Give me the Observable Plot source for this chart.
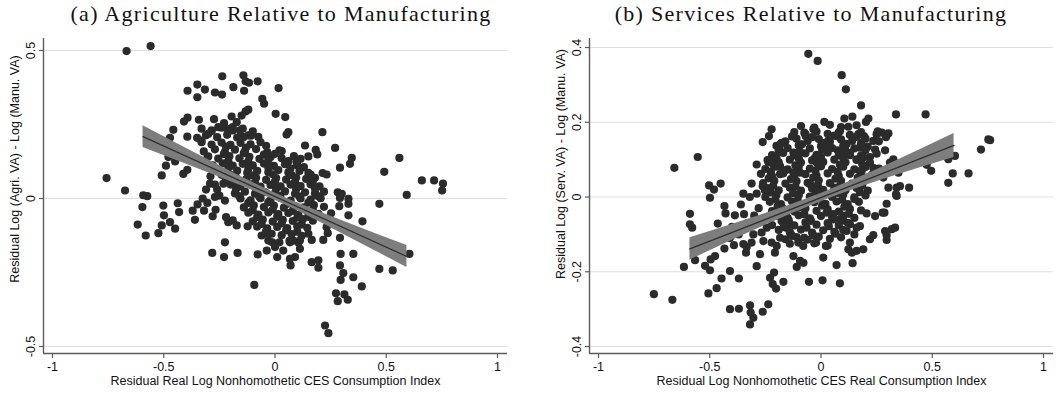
<!DOCTYPE html>
<html>
<head>
<meta charset="utf-8">
<script src="https://cdn.jsdelivr.net/npm/d3@7"></script>
<script src="https://cdn.jsdelivr.net/npm/@observablehq/plot@0.6"></script>
<style>
  html, body { margin: 0; padding: 0; background: #fff; }
  #wrap { position: relative; width: 1057px; height: 396px; overflow: hidden; background: #fff; }
  .title { position: absolute; top: 1px; width: 600px; text-align: center; font-family: "Liberation Serif", "Times New Roman", serif; font-size: 22px; letter-spacing: 1.3px; color: #111; white-space: nowrap; }
  .panel { position: absolute; top: 26px; }
</style>
</head>
<body>
<div id="wrap">
  <div class="title" id="t1" style="left:-19px">(a) Agriculture Relative to Manufacturing</div>
  <div class="title" id="t2" style="left:511px">(b) Services Relative to Manufacturing</div>
  <div class="panel" id="p1" style="left:0px"></div>
  <div class="panel" id="p2" style="left:529px"></div>
</div>
<script>
// ---------- shared axis values ----------
const xTicks = [-1, -0.5, 0, 0.5, 1];
const xTickLabels = ["-1", "-0.5", "0", "0.5", "1"];
const xDomain = [-1.0404, 1.0449];

// ---------- panel (a): Agriculture ----------
const agriYTicks = [-0.5, 0, 0.5];
const agriYTickLabels = ["-0.5", "0", "0.5"];
const agriYDomain = [-0.5236, 0.5405];
const agriXLabel = "Residual Real Log Nonhomothetic CES Consumption Index";
const agriYLabel = "Residual Log (Agri. VA) - Log (Manu. VA)";

const agriOuter = [
[-0.667,0.498],[-0.559,0.515],[-0.237,0.413],[-0.142,0.416],[-0.132,0.396],[-0.117,0.391],[-0.078,0.396],[-0.349,0.385],[-0.393,0.364],[-0.349,0.342],[-0.315,0.368],[-0.270,0.358],[-0.238,0.351],[-0.187,0.376],[-0.139,0.364],[0.016,0.373],[-0.057,0.337],[-0.049,0.320],[0.003,0.286],[0.046,0.275],[-0.132,0.294],[-0.120,0.300],[-0.150,0.280],[-0.195,0.277],[-0.274,0.268],[-0.342,0.266],[-0.393,0.273],[-0.409,0.260],[-0.457,0.232],[-0.394,0.209],[-0.472,0.205],[0.060,0.224],[0.052,0.216],[0.213,0.224],[-0.108,0.212],[-0.330,0.196],[-0.300,0.218],[-0.285,0.230],[-0.255,0.241],[-0.229,0.255],[-0.214,0.235],[-0.190,0.241],[-0.172,0.258],[-0.157,0.230],[-0.142,0.207],[0.135,0.179],[0.270,0.171],[0.030,0.160],[0.183,0.164],[0.190,0.149],[0.115,0.134],[0.097,0.123],[0.150,0.142],[0.345,0.137],[0.337,0.117],[0.292,0.104],[0.559,0.137],[0.491,0.090],[0.214,0.086],[0.232,0.081],[-0.757,0.069],[-0.674,0.027],[-0.592,0.011],[-0.574,0.008],[-0.596,-0.029],[-0.617,-0.088],[-0.502,-0.024],[-0.499,-0.057],[-0.437,-0.016],[-0.431,-0.046],[-0.509,0.078],[-0.490,0.111],[-0.479,0.140],[-0.449,0.125],[-0.412,0.083],[-0.394,0.097],[-0.370,-0.041],[-0.348,-0.020],[-0.319,-0.041],[-0.304,-0.015],[-0.267,-0.038],[-0.303,0.140],[-0.292,0.050],[-0.270,0.047],[-0.232,0.050],[0.469,-0.018],[0.330,-0.018],[0.289,-0.026],[0.282,0.021],[0.300,0.016],[0.252,-0.050],[0.330,-0.057],[0.393,-0.077],
[-0.04,-0.118],[-0.012,-0.148],[0.0,-0.164],[0.01,-0.198],[0.037,-0.176],[0.067,-0.204],[0.07,-0.226],[0.09,-0.198],[0.112,-0.17],[0.165,-0.215],[0.195,-0.209],[0.195,-0.234],[0.067,-0.148],[0.082,-0.142],[0.165,-0.14],[0.217,-0.14],[0.237,-0.117],[-0.093,-0.292],[-0.282,-0.184],[-0.229,-0.198],[-0.168,-0.184],[-0.078,-0.189],[-0.037,-0.176],[-0.225,-0.148],[-0.21,-0.08],[-0.172,-0.091],[-0.123,-0.094],[0.292,-0.133],[0.295,-0.187],[0.352,-0.187],[0.292,-0.226],[0.307,-0.252],[0.295,-0.275],[0.352,-0.266],[0.39,-0.297],[0.274,-0.32],[0.312,-0.324],[0.282,-0.347],[0.327,-0.342],[0.469,-0.238],[0.529,-0.243],[0.592,0.012],[0.604,-0.187],[0.225,-0.429],[0.24,-0.455],[0.292,0.002],[-0.581,-0.125],[-0.524,-0.117],[-0.509,-0.091],[-0.472,-0.08],[-0.449,-0.102],[-0.36,-0.072],[0.66,0.061],[0.715,0.061],[0.755,0.05],[0.751,0.027],[0.33,-0.001],[0.24,-0.08],[0.232,-0.097],[0.15,-0.119],[0.112,-0.142],
[-0.28,-0.06],[-0.225,-0.007],[-0.22,-0.063],[-0.19,-0.074],[-0.25,0.01],[-0.325,0.0],[-0.29,0.075],[-0.26,0.03],[-0.24,0.08],[-0.31,0.03],[-0.27,0.005]
];

const agriDense = [
[-0.33,0.236],[-0.285,0.228],[-0.24,0.239],[-0.19,0.23],[-0.145,0.236],[-0.10,0.227],
[-0.35,0.205],[-0.31,0.214],[-0.26,0.207],[-0.215,0.215],[-0.17,0.206],[-0.12,0.213],[-0.075,0.208],
[-0.33,0.19],[-0.285,0.182],[-0.24,0.189],[-0.2,0.181],[-0.155,0.188],[-0.11,0.183],[-0.065,0.19],
[-0.32,0.159],[-0.27,0.166],[-0.225,0.158],[-0.18,0.165],[-0.135,0.16],[-0.085,0.167],[-0.035,0.157],[0.02,0.163],
[-0.3,0.142],[-0.255,0.135],[-0.205,0.143],[-0.16,0.136],[-0.115,0.141],[-0.07,0.134],[-0.02,0.14],[0.03,0.136],[0.085,0.143],
[-0.28,0.112],[-0.235,0.119],[-0.19,0.111],[-0.145,0.117],[-0.1,0.112],[-0.05,0.118],[-0.005,0.11],[0.045,0.116],[0.1,0.112],
[-0.265,0.095],[-0.215,0.088],[-0.17,0.094],[-0.125,0.087],[-0.08,0.093],[-0.03,0.089],[0.015,0.096],[0.06,0.088],[0.11,0.093],[0.15,0.087],
[-0.22,0.064],[-0.175,0.071],[-0.13,0.065],[-0.085,0.07],[-0.04,0.063],[0.005,0.069],[0.05,0.064],[0.095,0.071],[0.14,0.066],[0.18,0.07],
[-0.2,0.047],[-0.155,0.041],[-0.11,0.048],[-0.065,0.04],[-0.02,0.046],[0.025,0.041],[0.07,0.047],[0.115,0.042],[0.16,0.048],[0.2,0.041],
[-0.18,0.017],[-0.135,0.023],[-0.09,0.016],[-0.045,0.022],[0.0,0.018],[0.045,0.024],[0.09,0.016],[0.135,0.021],[0.18,0.017],[0.22,0.023],
[-0.155,0.0],[-0.11,-0.006],[-0.065,0.001],[-0.02,-0.005],[0.025,0.002],[0.07,-0.007],[0.115,0.0],[0.16,-0.004],[0.205,0.001],
[-0.14,-0.03],[-0.095,-0.023],[-0.05,-0.029],[-0.005,-0.024],[0.04,-0.031],[0.085,-0.025],[0.13,-0.03],[0.175,-0.022],[0.22,-0.028],
[-0.12,-0.048],[-0.075,-0.054],[-0.03,-0.047],[0.015,-0.053],[0.06,-0.049],[0.105,-0.055],[0.15,-0.048],[0.195,-0.052],
[-0.1,-0.077],[-0.055,-0.071],[-0.01,-0.078],[0.035,-0.072],[0.08,-0.076],[0.125,-0.07],[0.17,-0.075],
[-0.08,-0.095],[-0.035,-0.101],[0.01,-0.096],[0.055,-0.1],[0.1,-0.094],[0.145,-0.099],
[-0.06,-0.125],[-0.015,-0.119],[0.03,-0.124],[0.075,-0.12],[0.12,-0.126],
[-0.03,-0.142],[0.02,-0.148],[0.065,-0.143],[0.105,-0.149]
];

const agriCore = [
[-0.22,0.175],[-0.13,0.172],[-0.04,0.178],
[-0.23,0.15],[-0.14,0.153],[-0.05,0.148],[0.0,0.151],
[-0.21,0.127],[-0.12,0.125],[-0.03,0.129],[0.06,0.126],
[-0.21,0.103],[-0.12,0.1],[-0.03,0.105],[0.07,0.102],[0.13,0.106],
[-0.2,0.08],[-0.105,0.078],[-0.01,0.082],[0.075,0.079],[0.16,0.081],
[-0.18,0.056],[-0.09,0.053],[0.0,0.058],[0.09,0.055],[0.17,0.057],
[-0.175,0.032],[-0.085,0.03],[0.005,0.034],[0.095,0.031],[0.18,0.033],
[-0.16,0.008],[-0.07,0.006],[0.02,0.01],[0.11,0.007],[0.19,0.009],
[-0.12,-0.015],[-0.03,-0.013],[0.06,-0.017],[0.15,-0.014],
[-0.1,-0.04],[-0.01,-0.038],[0.08,-0.042],[0.17,-0.039],
[-0.08,-0.063],[0.01,-0.061],[0.1,-0.065],[0.15,-0.062],
[-0.06,-0.086],[0.03,-0.084],[0.12,-0.088],
[-0.04,-0.11],[0.05,-0.108],[0.1,-0.112]
];

const agriFitX = [-0.593, 0.593];
const agriFitY = [0.209, -0.196];
const agriBandX = [-0.593, -0.3, 0, 0.3, 0.593];
const agriBandLo = [0.172, 0.087, -0.006, -0.118, -0.233];
const agriBandHi = [0.246, 0.131, 0.019, -0.074, -0.159];

// ---------- panel (b): Services ----------
const servYTicks = [-0.4, -0.2, 0, 0.2, 0.4];
const servYTickLabels = ["-0.4", "-0.2", "0", "0.2", "0.4"];
const servYDomain = [-0.4187, 0.4241];
const servXLabel = "Residual Log Nonhomothetic CES Real Consumption Index";
const servYLabel = "Residual Log (Serv. VA) - Log (Manu. VA)";

const servOuter = [
[-0.057,0.383],[-0.015,0.364],[0.093,0.326],[0.112,0.288],[0.18,0.245],[0.015,0.201],[0.105,0.21],[0.141,0.215],[0.202,0.201],[0.213,0.21],[0.123,0.188],[0.255,0.176],[-0.222,0.181],[-0.234,0.163],[-0.262,0.147],[-0.177,0.145],[-0.187,0.132],[-0.659,0.078],[-0.554,0.107],[-0.503,0.031],[-0.481,0.02],[-0.499,-0.002],[-0.451,0.036],[-0.434,-0.024],[-0.349,0.009],[-0.312,0.036],[-0.289,0.087],[-0.237,0.094],[-0.207,0.098],[-0.262,0.029],[-0.252,0.018],[-0.289,0.009],[-0.226,0.058],[-0.184,0.061],[-0.094,0.141],[-0.075,0.172],[-0.069,0.163],[-0.034,0.181],[-0.102,0.107],[-0.124,0.119],[-0.027,0.105],[-0.019,0.092],[0.018,0.136],[0.033,0.15],[0.07,0.163],[0.085,0.176],[0.168,0.168],[0.193,0.163],[0.235,0.15],[0.243,0.127],[0.175,0.132],[0.22,0.107],[0.16,0.101],[0.183,0.07],[0.205,0.052],[0.235,0.078],[0.075,0.125],[0.108,0.132],[0.13,0.112],[-0.184,0.083],[-0.162,0.071],[-0.124,0.052],[-0.094,0.065],[-0.049,0.034],[-0.012,0.025],
[-0.589,-0.045],[-0.589,-0.073],[-0.579,-0.082],[-0.616,-0.187],[-0.751,-0.26],[-0.668,-0.275],[-0.566,-0.169],[-0.521,-0.184],[-0.499,-0.196],[-0.496,-0.167],[-0.476,-0.158],[-0.506,-0.258],[-0.469,-0.244],[-0.447,-0.218],[-0.409,-0.198],[-0.369,-0.218],[-0.434,-0.138],[-0.391,-0.129],[-0.464,-0.071],[-0.429,-0.044],[-0.387,-0.049],[-0.346,-0.046],[-0.409,-0.3],[-0.369,-0.299],[-0.319,-0.29],[-0.316,-0.309],[-0.304,-0.323],[-0.319,-0.341],[-0.262,-0.307],[-0.237,-0.287],[-0.289,-0.185],[-0.274,-0.153],[-0.349,-0.126],[-0.334,-0.134],[-0.337,-0.149],[-0.259,-0.118],[-0.222,-0.122],[-0.199,-0.131],[-0.207,-0.149],[-0.184,-0.109],[-0.229,-0.216],[-0.211,-0.202],[-0.217,-0.233],[-0.202,-0.245],[-0.169,-0.227],[-0.124,-0.158],[-0.094,-0.171],[-0.109,-0.187],[-0.079,-0.176],[-0.102,-0.122],[-0.132,-0.104],[-0.054,-0.227],[0.007,-0.223],[0.085,-0.231],[0.01,-0.162],[0.022,-0.131],[-0.022,-0.122],[-0.076,-0.109],[0.07,-0.182],[0.142,-0.177],[0.13,-0.122],[0.123,-0.14],[0.139,-0.149],[0.16,-0.144],[0.19,-0.14],[0.115,-0.091],[0.15,-0.1],[0.175,-0.078],[0.205,-0.044],[0.243,-0.051],[0.285,-0.042],[0.22,-0.113],[0.235,-0.102],[0.288,-0.091],[0.295,-0.102],[0.318,-0.086],[0.333,-0.082],[0.295,-0.018],[0.13,-0.073],[0.16,-0.082],[0.055,-0.046],[0.085,-0.06],[-0.157,-0.082],[-0.177,-0.064],[-0.139,-0.073],[-0.244,-0.082],[-0.267,-0.095],[-0.304,-0.1],[-0.312,-0.122],[0.303,0.025],[0.34,0.025],[0.34,0.003],[0.396,0.025],[0.572,0.038],
[0.337,0.221],[0.47,0.221],[0.273,0.172],[0.303,0.17],[0.292,0.16],[0.288,0.125],[0.752,0.154],[0.76,0.152],[0.719,0.127],[0.572,0.101],[0.602,0.11],[0.475,0.086],[0.495,0.07],[0.592,0.063],[0.663,0.063],[0.325,0.101],[0.31,0.092],[0.348,0.065],[0.355,0.029],[0.337,0.007],[0.28,0.052],[0.277,-0.042],[0.295,-0.115],
[-0.4,-0.08],[-0.37,-0.1],[-0.33,-0.07],[-0.3,-0.05],[-0.28,-0.03],[-0.36,-0.02],[-0.32,0.0],[-0.41,-0.11]
];

const servDense = [
[-0.09,0.19],[-0.03,0.186],[0.04,0.193],[0.09,0.187],[0.16,0.192],
[-0.12,0.174],[-0.07,0.168],[-0.02,0.175],[0.03,0.169],[0.08,0.173],[0.13,0.166],[0.18,0.174],[0.25,0.168],
[-0.16,0.149],[-0.11,0.156],[-0.06,0.15],[-0.01,0.155],[0.04,0.148],[0.09,0.154],[0.14,0.15],[0.2,0.156],[0.26,0.149],
[-0.2,0.137],[-0.15,0.131],[-0.1,0.138],[-0.05,0.13],[0.0,0.136],[0.05,0.131],[0.1,0.137],[0.15,0.13],[0.21,0.135],
[-0.22,0.112],[-0.17,0.118],[-0.12,0.111],[-0.07,0.117],[-0.02,0.113],[0.03,0.119],[0.08,0.112],[0.13,0.118],[0.18,0.111],[0.25,0.116],
[-0.24,0.099],[-0.19,0.093],[-0.14,0.1],[-0.09,0.092],[-0.04,0.098],[0.01,0.094],[0.06,0.1],[0.11,0.093],[0.16,0.099],[0.22,0.092],
[-0.25,0.075],[-0.2,0.081],[-0.15,0.074],[-0.1,0.08],[-0.05,0.076],[0.0,0.082],[0.05,0.075],[0.1,0.081],[0.15,0.074],[0.2,0.08],[0.26,0.076],
[-0.27,0.062],[-0.22,0.056],[-0.17,0.063],[-0.12,0.055],[-0.07,0.061],[-0.02,0.057],[0.03,0.063],[0.08,0.056],[0.13,0.062],[0.18,0.055],[0.23,0.06],
[-0.26,0.037],[-0.21,0.043],[-0.16,0.036],[-0.11,0.042],[-0.06,0.038],[-0.01,0.044],[0.04,0.037],[0.09,0.043],[0.14,0.036],[0.19,0.041],
[-0.24,0.024],[-0.19,0.018],[-0.14,0.025],[-0.09,0.017],[-0.04,0.023],[0.01,0.019],[0.06,0.025],[0.11,0.018],[0.16,0.024],[0.21,0.017],
[-0.25,0.0],[-0.2,0.006],[-0.15,-0.001],[-0.1,0.005],[-0.05,0.001],[0.0,0.007],[0.05,0.0],[0.1,0.006],[0.15,-0.001],[0.2,0.004],
[-0.23,-0.013],[-0.18,-0.019],[-0.13,-0.012],[-0.08,-0.02],[-0.03,-0.014],[0.02,-0.018],[0.07,-0.012],[0.12,-0.019],[0.17,-0.013],
[-0.22,-0.038],[-0.17,-0.032],[-0.12,-0.039],[-0.07,-0.031],[-0.02,-0.037],[0.03,-0.033],[0.08,-0.039],[0.13,-0.032],[0.18,-0.036],
[-0.2,-0.05],[-0.15,-0.056],[-0.1,-0.049],[-0.05,-0.057],[0.0,-0.051],[0.05,-0.055],[0.1,-0.05],[0.15,-0.056],
[-0.22,-0.075],[-0.17,-0.069],[-0.12,-0.076],[-0.07,-0.068],[-0.02,-0.074],[0.03,-0.07],[0.08,-0.076],[0.12,-0.069],
[-0.19,-0.088],[-0.14,-0.094],[-0.09,-0.087],[-0.04,-0.095],[0.01,-0.089],[0.06,-0.093],[0.1,-0.088],
[-0.16,-0.113],[-0.11,-0.107],[-0.06,-0.114],[-0.01,-0.106],[0.04,-0.112],[0.09,-0.108],
[-0.14,-0.125],[-0.08,-0.131],[-0.03,-0.124],[0.03,-0.13]
];

const servCore = [
[-0.13,0.162],[-0.04,0.16],[0.06,0.164],[0.16,0.161],
[-0.18,0.143],[-0.085,0.141],[0.015,0.145],[0.115,0.142],[0.18,0.144],
[-0.19,0.124],[-0.095,0.122],[0.005,0.126],[0.105,0.123],[0.2,0.125],
[-0.2,0.105],[-0.1,0.103],[0.0,0.107],[0.1,0.104],[0.19,0.106],
[-0.215,0.087],[-0.115,0.085],[-0.015,0.089],[0.085,0.086],[0.185,0.088],
[-0.225,0.068],[-0.125,0.066],[-0.025,0.07],[0.075,0.067],[0.175,0.069],
[-0.235,0.05],[-0.135,0.048],[-0.035,0.052],[0.065,0.049],[0.165,0.051],
[-0.215,0.03],[-0.115,0.028],[-0.015,0.032],[0.085,0.029],[0.185,0.031],
[-0.225,0.012],[-0.125,0.01],[-0.025,0.014],[0.075,0.011],[0.175,0.013],
[-0.205,-0.006],[-0.105,-0.008],[-0.005,-0.004],[0.095,-0.007],[0.15,-0.005],
[-0.195,-0.025],[-0.095,-0.027],[0.005,-0.023],[0.105,-0.026],
[-0.175,-0.044],[-0.075,-0.046],[0.025,-0.042],[0.125,-0.045],
[-0.145,-0.062],[-0.045,-0.064],[0.055,-0.06],[0.1,-0.063],
[-0.165,-0.08],[-0.065,-0.082],[0.035,-0.078],
[-0.135,-0.1],[-0.035,-0.102],[0.065,-0.098]
];

const servFitX = [-0.589, 0.598];
const servFitY = [-0.139, 0.138];
const servBandX = [-0.589, -0.3, 0, 0.3, 0.598];
const servBandLo = [-0.169, -0.089, -0.0125, 0.051, 0.106];
const servBandHi = [-0.109, -0.054, 0.0095, 0.086, 0.170];

// ---------- styling ----------
const axisColor = "#5c5c5c";
const gridColor = "#dedede";
const dotColor = "#2b2b2b";
const bandColor = "#7d7d7d";
const lineColor = "#303030";

function panel(o) {
  const points = o.outer.concat(o.dense, o.core).map(([x, y]) => ({x, y}));
  const fit = o.fitX.map((x, i) => ({x, y: o.fitY[i]}));
  const band = o.bandX.map((x, i) => ({x, lo: o.bandLo[i], hi: o.bandHi[i]}));
  return Plot.plot({
    width: 528,
    height: 370,
    marginLeft: o.marginLeft,
    marginRight: o.marginRight,
    marginTop: 12,
    marginBottom: 43,
    x: {domain: xDomain},
    y: {domain: o.yDomain},
    style: {fontFamily: "'Liberation Sans', Arial, Helvetica, sans-serif", fontSize: "12.5px", color: "#111", background: "#fff", overflow: "visible"},
    marks: [
      Plot.gridY(o.yTicks, {stroke: gridColor, strokeOpacity: 1, strokeWidth: 1.2}),
      Plot.dot(points, {x: "x", y: "y", r: 4.1, fill: dotColor, stroke: "none"}),
      Plot.areaY(band, {x: "x", y1: "lo", y2: "hi", fill: bandColor, fillOpacity: 1, curve: "natural"}),
      Plot.line(fit, {x: "x", y: "y", stroke: lineColor, strokeWidth: 1.3}),
      Plot.ruleX([xDomain[0]], {stroke: axisColor, strokeWidth: 1.4}),
      Plot.ruleY([o.yDomain[0]], {stroke: axisColor, strokeWidth: 1.4}),
      Plot.axisX({ticks: xTicks, tickSize: 5, tickPadding: 4, stroke: axisColor, strokeWidth: 1.2,
        tickFormat: d => xTickLabels[xTicks.indexOf(d)], label: null}),
      Plot.axisY({ticks: o.yTicks, tickSize: 4, stroke: axisColor, strokeWidth: 1.2, tickFormat: () => "", label: null}),
      Plot.text(o.yTicks, {y: d => d, text: d => o.yTickLabels[o.yTicks.indexOf(d)], frameAnchor: "left", textAnchor: "middle", dx: -13, rotate: -90}),
      Plot.text([o.xLabel], {text: d => d, frameAnchor: "bottom", textAnchor: "middle", dy: 31}),
      Plot.text([o.yLabel], {text: d => d, frameAnchor: "left", textAnchor: "middle", dx: -29, dy: o.yLabelDy, rotate: -90})
    ]
  });
}

document.getElementById("p1").appendChild(panel({
  outer: agriOuter, dense: agriDense, core: agriCore, fitX: agriFitX, fitY: agriFitY,
  bandX: agriBandX, bandLo: agriBandLo, bandHi: agriBandHi,
  yDomain: agriYDomain, yTicks: agriYTicks, yTickLabels: agriYTickLabels,
  xLabel: agriXLabel, yLabel: agriYLabel, marginLeft: 43, marginRight: 21, yLabelDy: -27
}));
document.getElementById("p2").appendChild(panel({
  outer: servOuter, dense: servDense, core: servCore, fitX: servFitX, fitY: servFitY,
  bandX: servBandX, bandLo: servBandLo, bandHi: servBandHi,
  yDomain: servYDomain, yTicks: servYTicks, yTickLabels: servYTickLabels,
  xLabel: servXLabel, yLabel: servYLabel, marginLeft: 60, marginRight: 4, yLabelDy: -32
}));
</script>
</body>
</html>
